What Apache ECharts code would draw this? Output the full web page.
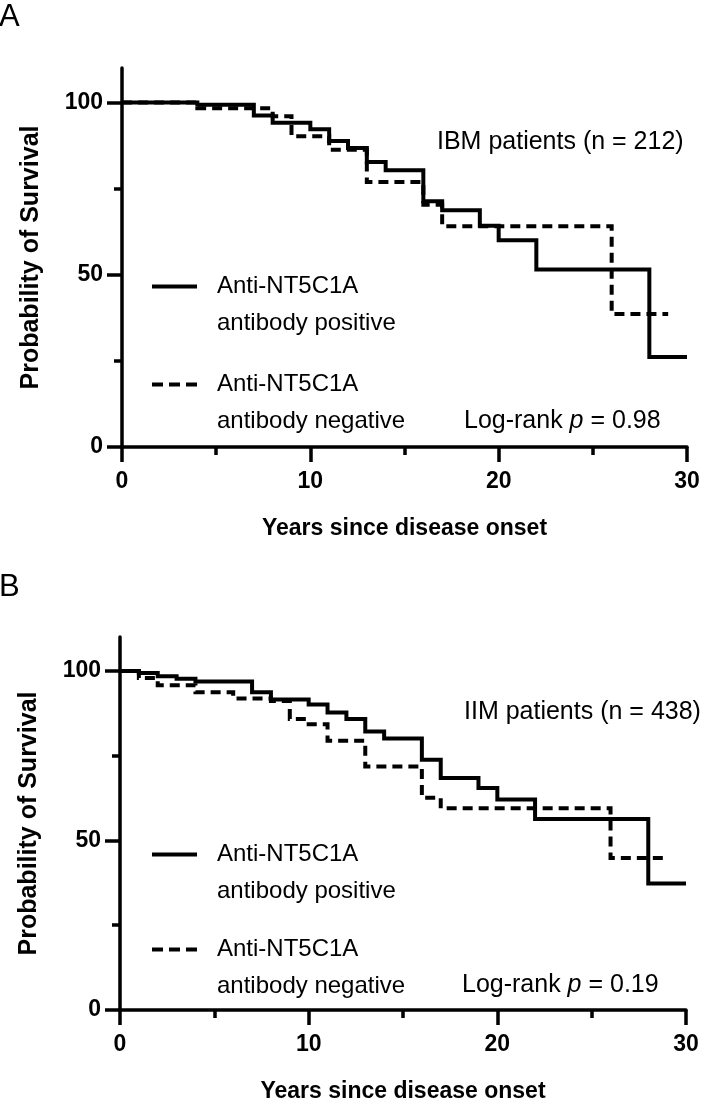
<!DOCTYPE html>
<html>
<head>
<meta charset="utf-8">
<script src="https://cdn.jsdelivr.net/npm/echarts@6/dist/echarts.min.js"></script>
<style>
html,body{margin:0;padding:0;background:#fff;}
#c{width:709px;height:1104px;}
</style>
</head>
<body>
<div id="c"></div>
<script>
// ---- Data ----
// Panel A: IBM patients
const aPosTime = [0, 4, 7, 8, 10, 11, 12, 13, 14, 16, 17, 19, 20, 22, 28, 30];
const aPosSurv = [100, 99.3, 96.2, 94.1, 92.2, 88.8, 86.8, 82.7, 80.3, 71.3, 68.7, 64.2, 60.0, 51.5, 26.1, 26.1];
const aNegTime = [0, 4, 8, 9, 11, 13, 16, 17, 26, 29];
const aNegSurv = [100, 98.3, 96.0, 90.2, 86.3, 76.9, 70.3, 64.1, 38.6, 38.6];
// Panel B: IIM patients
const bPosTime = [0, 1, 2, 3, 4, 7, 8, 10, 11, 12, 13, 14, 16, 17, 19, 20, 22, 28, 30];
const bPosSurv = [100, 99.4, 98.4, 97.7, 96.9, 93.7, 91.6, 90.1, 87.7, 85.8, 82.1, 80.1, 73.8, 68.4, 65.5, 62.1, 56.3, 37.3, 37.3];
const bNegTime = [0, 1, 2, 4, 6, 8, 9, 10, 11, 13, 16, 17, 26, 29];
const bNegSurv = [100, 97.9, 95.8, 93.7, 91.9, 91.1, 85.8, 84.3, 79.4, 71.8, 62.6, 59.5, 44.8, 44.8];

const xMajorTicks = [0, 10, 20, 30];
const xMinorTicks = [5, 15, 25];
const yMajorTicks = [0, 50, 100];
const yMinorTicks = [25, 75];

const posLabel = ['Anti-NT5C1A', 'antibody positive'];
const negLabel = ['Anti-NT5C1A', 'antibody negative'];
const panelAText = 'IBM patients (n = 212)';
const panelBText = 'IIM patients (n = 438)';
const pA = '0.98';
const pB = '0.19';

// ---- Chart ----
const FONT = 'Liberation Sans, Arial, Helvetica, sans-serif';
const chart = echarts.init(document.getElementById('c'), null, {renderer: 'canvas'});

const grids = [
  {left: 122, top: 68, width: 565, height: 379},
  {left: 120, top: 637, width: 566, height: 378}
];

function mainX(gi) {
  return {
    type: 'value', gridIndex: gi, min: 0, max: 30, position: 'bottom',
    name: 'Years since disease onset', nameLocation: 'middle', nameGap: 70,
    nameTextStyle: {fontFamily: FONT, fontWeight: 'bold', fontSize: 23, color: '#000'},
    axisLine: {show: true, onZero: false, lineStyle: {color: '#000', width: 3.5}},
    axisTick: {show: true, length: 15, lineStyle: {color: '#000', width: 3.5}, customValues: xMajorTicks},
    axisLabel: {show: true, margin: 23, fontFamily: FONT, fontWeight: 'bold', fontSize: 23, color: '#000', customValues: xMajorTicks},
    splitLine: {show: false}
  };
}
function minorX(gi) {
  return {
    type: 'value', gridIndex: gi, min: 0, max: 30, position: 'bottom',
    axisLine: {show: false, onZero: false},
    axisTick: {show: true, length: 8, lineStyle: {color: '#000', width: 3.5}, customValues: xMinorTicks},
    axisLabel: {show: false},
    splitLine: {show: false}
  };
}
function mainY(gi) {
  return {
    type: 'value', gridIndex: gi, min: 0, max: 110, position: 'left',
    name: 'Probability of Survival', nameLocation: 'middle', nameGap: 78,
    nameTextStyle: {fontFamily: FONT, fontWeight: 'bold', fontSize: 25, color: '#000'},
    axisLine: {show: true, onZero: false, lineStyle: {color: '#000', width: 3.5}},
    axisTick: {show: true, length: 15, lineStyle: {color: '#000', width: 3.5}, customValues: yMajorTicks},
    axisLabel: {show: true, margin: 19, fontFamily: FONT, fontWeight: 'bold', fontSize: 23, color: '#000', customValues: yMajorTicks},
    splitLine: {show: false}
  };
}
function minorY(gi) {
  return {
    type: 'value', gridIndex: gi, min: 0, max: 110, position: 'left',
    axisLine: {show: false, onZero: false},
    axisTick: {show: true, length: 8, lineStyle: {color: '#000', width: 3.5}, customValues: yMinorTicks},
    axisLabel: {show: false},
    splitLine: {show: false}
  };
}

function kmSeries(name, xi, yi, times, surv, dashed) {
  return {
    name: name, type: 'line', step: 'end', xAxisIndex: xi, yAxisIndex: yi,
    data: times.map((t, i) => [t, surv[i]]),
    symbol: 'none', silent: true, animation: false,
    lineStyle: {color: '#000', width: 4, type: dashed ? [10, 6] : 'solid', cap: 'butt', join: 'miter'},
    itemStyle: {color: '#000'}
  };
}

const labelMap = {'A+': posLabel, 'A-': negLabel, 'B+': posLabel, 'B-': negLabel};
function legendItem(name, left, iconY, dashed) {
  return {
    data: [name], left: left, top: iconY - 10.5, padding: 0,
    itemWidth: 45, itemHeight: 1, selectedMode: false,
    itemStyle: {color: 'rgba(0,0,0,0)', borderWidth: 0, opacity: 0},
    lineStyle: {color: '#000', width: 4, type: dashed ? [11, 6] : 'solid', cap: 'butt'},
    formatter: n => '{a|' + labelMap[n][0] + '}\n{a|' + labelMap[n][1] + '}',
    textStyle: {fontFamily: FONT, fontSize: 24, color: '#000', padding: [37, 0, 0, 15],
      rich: {a: {fontFamily: FONT, fontSize: 24, color: '#000', lineHeight: 37}}}
  };
}

function note(x, y, text) {
  return {type: 'text', x: x, y: y, silent: true,
    style: {text: text, fontFamily: FONT, fontSize: 25, fill: '#000', align: 'left', verticalAlign: 'middle'}};
}
function pnote(x, y, p) {
  return {type: 'text', x: x, y: y, silent: true,
    style: {text: 'Log-rank {i|p} = ' + p, fontFamily: FONT, fontSize: 25, fill: '#000', align: 'left', verticalAlign: 'middle',
      rich: {i: {fontFamily: FONT, fontSize: 25, fontStyle: 'italic', fill: '#000'}}}};
}
function panelLetter(x, y, t) {
  return {type: 'text', x: x, y: y, silent: true,
    style: {text: t, fontFamily: FONT, fontSize: 31, fill: '#000', align: 'left', verticalAlign: 'middle'}};
}

chart.setOption({
  animation: false,
  backgroundColor: '#fff',
  grid: grids,
  xAxis: [mainX(0), minorX(0), mainX(1), minorX(1)],
  yAxis: [mainY(0), minorY(0), mainY(1), minorY(1)],
  legend: [
    legendItem('A+', 150, 285, false),
    legendItem('A-', 150, 383, true),
    legendItem('B+', 150, 853, false),
    legendItem('B-', 150, 948, true)
  ],
  series: [
    kmSeries('A+', 0, 0, aPosTime, aPosSurv, false),
    kmSeries('A-', 0, 0, aNegTime, aNegSurv, true),
    kmSeries('B+', 2, 2, bPosTime, bPosSurv, false),
    kmSeries('B-', 2, 2, bNegTime, bNegSurv, true)
  ],
  graphic: [
    panelLetter(-1, 17, 'A'),
    panelLetter(-1, 587, 'B'),
    note(437, 142, panelAText),
    note(464, 712, panelBText),
    pnote(464, 421, pA),
    pnote(462, 985, pB)
  ]
});
</script>
</body>
</html>
